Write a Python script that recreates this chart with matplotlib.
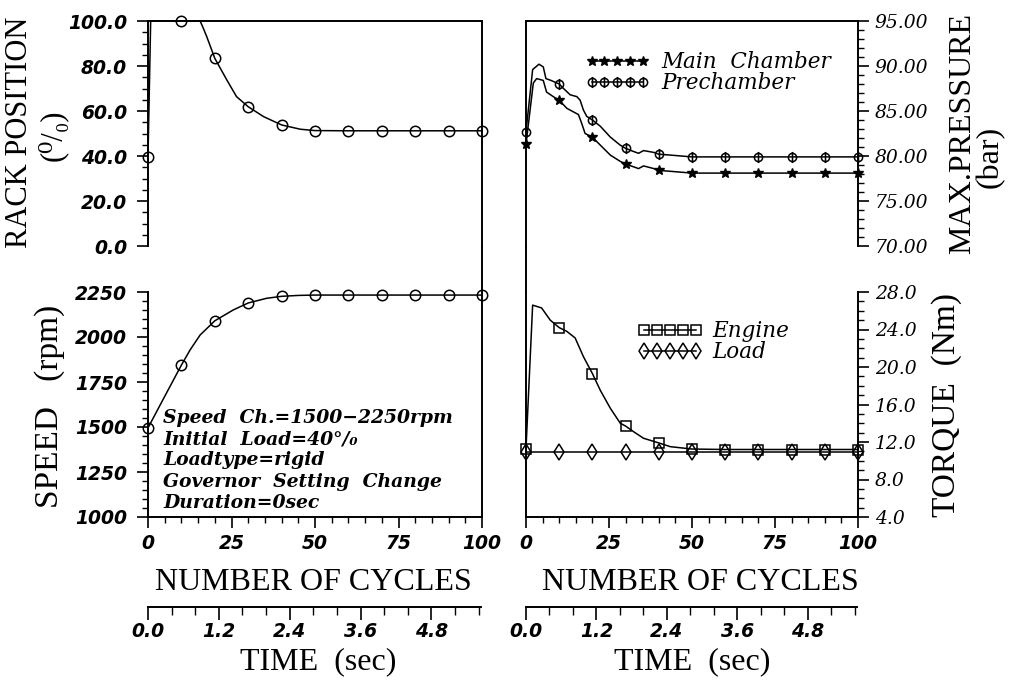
import matplotlib
matplotlib.use("Agg")
import matplotlib.pyplot as plt
from matplotlib.lines import Line2D
from matplotlib.path import Path
from matplotlib.font_manager import FontProperties
from matplotlib.ticker import MultipleLocator, FormatStrFormatter

W, H = 1009, 680

# rack position (%) against number of cycles
rack_cycles = [0, 0.8, 10, 15.6, 16.5, 17.6, 20, 23.6, 26.5, 30, 34.6, 40, 45.6, 50, 60, 70, 80, 90, 100]
rack_pos = [39.7, 100, 100, 100, 97.0, 93.0, 83.4, 73.8, 66.4, 61.9, 57.5, 53.8, 51.9, 51.3, 51.2, 51.2, 51.2, 51.2, 51.2]

# engine speed (rpm)
speed_cycles = [0, 5, 10, 12.6, 15.6, 20, 25.5, 30, 35.5, 40, 45, 50, 60, 70, 80, 90, 100]
speed_rpm = [1495, 1670, 1844, 1928, 2011, 2090, 2150, 2189, 2215, 2226, 2231, 2233, 2233, 2233, 2233, 2233, 2233]

# maximum pressure (bar)
main_cycles = [0, 2.2, 3.2, 5.2, 6.2, 8.2, 10, 12.3, 14.3, 15.8, 16.8, 17.8, 20, 22.4, 25.4, 28.4, 30,
               32.4, 33.9, 35.4, 38.5, 40, 43.5, 50, 60, 70, 80, 90, 100]
main_bar = [81.3, 88.1, 88.6, 88.4, 87.1, 86.6, 86.2, 85.3, 84.9, 84.6, 83.6, 82.5, 82.1, 81.2, 80.1, 79.4, 79.1,
            78.8, 78.6, 78.9, 78.6, 78.4, 78.3, 78.1, 78.1, 78.1, 78.1, 78.1, 78.1]
pre_cycles = [0, 2.0, 3.9, 5.2, 6.0, 7.5, 10, 11.3, 13.3, 15.3, 16.3, 17.3, 18.3, 20, 22.4, 25.4, 28.4, 30,
              32.4, 33.9, 35.4, 38.5, 40, 43.5, 50, 60, 70, 80, 90, 100]
pre_bar = [82.7, 89.6, 90.2, 89.9, 88.6, 88.4, 88.0, 87.5, 86.8, 86.6, 86.2, 85.1, 84.4, 84.0, 83.3, 82.1, 81.2, 80.85,
           80.5, 80.3, 80.6, 80.4, 80.2, 80.1, 79.9, 79.9, 79.9, 79.9, 79.9, 79.9]

# torque (Nm)
eng_cycles = [0, 2.0, 4.7, 7.3, 10, 12.3, 14.8, 17.3, 20, 22.4, 25.4, 28.4, 30, 32.4, 35.4, 40, 43.5, 50,
              60, 70, 80, 90, 100]
eng_nm = [11.3, 26.6, 26.3, 25.0, 24.2, 23.8, 23.1, 21.1, 19.3, 17.5, 15.6, 14.0, 13.7, 13.1, 12.4, 11.9, 11.5, 11.25,
          11.2, 11.2, 11.2, 11.2, 11.2]
load_cycles = [0, 10, 20, 30, 40, 50, 60, 70, 80, 90, 100]
load_nm = [10.9, 10.9, 10.9, 10.9, 10.9, 10.9, 10.9, 10.9, 10.9, 10.9, 10.9]

notes = ["Speed  Ch.=1500\u22122250rpm", "Initial  Load=40\u00b0/\u2080", "Loadtype=rigid",
         "Governor  Setting  Change", "Duration=0sec"]
time_max = 5.64

fig = plt.figure(figsize=(W / 100, H / 100), dpi=100)
fig.patch.set_facecolor("white")


def px_axes(x0, y0, x1, y1):
    return fig.add_axes([x0 / W, 1 - y1 / H, (x1 - x0) / W, (y1 - y0) / H])


def every_ten(xs):
    return [i for i, c in enumerate(xs) if c % 10 == 0]


tick_fp = FontProperties(family="DejaVu Sans", weight="bold", style="italic", size=13.5)
right_fp = FontProperties(family="DejaVu Serif", style="italic", size=13.5)
label_font = dict(family=["Liberation Serif", "DejaVu Serif"], color="black")
legend_fp = FontProperties(family="DejaVu Serif", style="italic", size=15.5)
spine_lw = 1.4
lw = 1.1

# crossed circle for the prechamber
pre_marker = Path.make_compound_path(Path.unit_circle(), Path([(0, -1.35), (0, 1.35)]))

ax_tl = px_axes(148, 21, 482, 246)
ax_bl = px_axes(148, 292, 482, 517)
ax_tr = px_axes(526, 21, 858, 246)
ax_br = px_axes(526, 292, 858, 517)
ax_t1 = px_axes(148, 606, 481, 607)
ax_t2 = px_axes(526, 606, 857, 607)

for ax in (ax_tl, ax_bl, ax_tr, ax_br, ax_t1, ax_t2):
    ax.set_facecolor("none")
    for s in ax.spines.values():
        s.set_linewidth(spine_lw)
    ax.tick_params(which="major", direction="out", length=8, width=1.2)
    ax.tick_params(which="minor", direction="out", length=4.5, width=1.0)
    ax.set_xlim(0, 100)

# rack position
ax_tl.plot(rack_cycles, rack_pos, color="k", lw=lw, marker="o", ms=7.5, mfc="none", mew=1.1,
           markevery=every_ten(rack_cycles), clip_on=False)
ax_tl.set_ylim(0, 100)
ax_tl.yaxis.set_major_locator(MultipleLocator(20))
ax_tl.yaxis.set_minor_locator(MultipleLocator(5))
ax_tl.yaxis.set_major_formatter(FormatStrFormatter("%.1f"))
ax_tl.spines["bottom"].set_visible(False)
ax_tl.tick_params(axis="x", which="both", bottom=False, labelbottom=False)

# speed
ax_bl.plot(speed_cycles, speed_rpm, color="k", lw=lw, marker="o", ms=7.5, mfc="none", mew=1.1,
           markevery=every_ten(speed_cycles), clip_on=False)
ax_bl.set_ylim(1000, 2250)
ax_bl.yaxis.set_major_locator(MultipleLocator(250))
ax_bl.yaxis.set_minor_locator(MultipleLocator(50))
ax_bl.yaxis.set_major_formatter(FormatStrFormatter("%d"))
ax_bl.spines["top"].set_visible(False)
for i, line in enumerate(notes):
    ax_bl.text(0.045, 0.44 - i * 0.0944, line, transform=ax_bl.transAxes, va="center", ha="left",
               fontsize=13.5, fontweight="bold", fontstyle="italic", family=["DejaVu Serif", "DejaVu Sans"])

# pressure
ax_tr.plot(main_cycles, main_bar, color="k", lw=lw, marker="*", ms=7.5, mfc="k", mec="k",
           markevery=every_ten(main_cycles), clip_on=False)
ax_tr.plot(pre_cycles, pre_bar, color="k", lw=lw, marker=pre_marker, ms=8, mfc="none", mec="k", mew=1.1,
           markevery=every_ten(pre_cycles), clip_on=False)
ax_tr.set_ylim(70, 95)
ax_tr.yaxis.set_major_locator(MultipleLocator(5))
ax_tr.yaxis.set_minor_locator(MultipleLocator(1))
ax_tr.yaxis.set_major_formatter(FormatStrFormatter("%.2f"))
ax_tr.yaxis.tick_right()
ax_tr.spines["bottom"].set_visible(False)
ax_tr.tick_params(axis="x", which="both", bottom=False, labelbottom=False)
ax_tr.legend([Line2D([], [], color="k", lw=lw, marker="*", ms=7.5, mfc="k"),
              Line2D([], [], color="k", lw=lw, marker=pre_marker, ms=8, mfc="none", mew=1.1)],
             ["Main  Chamber", "Prechamber"], loc="upper left", bbox_to_anchor=(0.178, 0.865),
             numpoints=5, handlelength=3.0, handletextpad=0.55, labelspacing=-0.05,
             frameon=False, borderpad=0, borderaxespad=0, prop=legend_fp)

# torque
ax_br.plot(eng_cycles, eng_nm, color="k", lw=lw, marker="s", ms=7.5, mfc="none", mew=1.1,
           markevery=every_ten(eng_cycles), clip_on=False)
ax_br.plot(load_cycles, load_nm, color="k", lw=lw, marker="d", ms=8.5, mfc="none", mew=1.1, clip_on=False)
ax_br.set_ylim(4, 28)
ax_br.yaxis.set_major_locator(MultipleLocator(4))
ax_br.yaxis.set_minor_locator(MultipleLocator(1))
ax_br.yaxis.set_major_formatter(FormatStrFormatter("%.1f"))
ax_br.yaxis.tick_right()
ax_br.spines["top"].set_visible(False)
ax_br.legend([Line2D([], [], color="k", lw=lw, marker="s", ms=7.5, mfc="none", mew=1.1),
              Line2D([], [], color="k", lw=lw, marker="d", ms=8.5, mfc="none", mew=1.1)],
             ["Engine", "Load"], loc="upper left", bbox_to_anchor=(0.337, 0.875),
             numpoints=5, handlelength=3.0, handletextpad=0.45, labelspacing=-0.05,
             frameon=False, borderpad=0, borderaxespad=0, prop=legend_fp)

for ax in (ax_bl, ax_br):
    ax.xaxis.set_major_locator(MultipleLocator(25))
    ax.xaxis.set_minor_locator(MultipleLocator(5))
    ax.tick_params(axis="x", pad=4)
    for t in ax.get_xticklabels():
        t.set_fontproperties(tick_fp)

for ax in (ax_tl, ax_bl):
    ax.tick_params(axis="y", pad=7)
    for t in ax.get_yticklabels():
        t.set_fontproperties(tick_fp)

for ax in (ax_tr, ax_br):
    ax.tick_params(axis="y", pad=4)
    for t in ax.get_yticklabels():
        t.set_fontproperties(right_fp)

# time axes under each column
for ax in (ax_t1, ax_t2):
    for side in ("top", "left", "right"):
        ax.spines[side].set_visible(False)
    ax.set_xlim(0, time_max)
    ax.set_yticks([])
    ax.xaxis.set_major_locator(MultipleLocator(1.2))
    ax.xaxis.set_minor_locator(MultipleLocator(0.4))
    ax.xaxis.set_major_formatter(FormatStrFormatter("%.1f"))
    ax.tick_params(axis="x", which="major", length=9, pad=2)
    ax.tick_params(axis="x", which="minor", length=5.5)
    for t in ax.get_xticklabels():
        t.set_fontproperties(tick_fp)

# frame pieces bridging the two panels of each column
for xp in (482, 526):
    fig.add_artist(Line2D([xp / W, xp / W], [1 - 246 / H, 1 - 292 / H], transform=fig.transFigure,
                          color="k", lw=spine_lw))


def fig_text(x, y, s, size, rot=0):
    fig.text(x / W, 1 - y / H, s, ha="center", va="center", rotation=rot, fontsize=size, **label_font)


fig_text(20, 132, "RACK POSITION", 22, 90)
fig_text(52, 135, "(\u2070/\u2080)", 22, 90)
fig_text(50, 406, "SPEED   (rpm)", 24, 90)
fig_text(963, 133, "MAX.PRESSURE", 23, 90)
fig_text(990, 157, "(bar)", 23, 90)
fig_text(947, 405, "TORQUE  (Nm)", 24, 90)
fig_text(313, 582, "NUMBER OF CYCLES", 23)
fig_text(700, 582, "NUMBER OF CYCLES", 23)
fig_text(318, 662, "TIME  (sec)", 23)
fig_text(692, 662, "TIME  (sec)", 23)

fig.savefig("out.png", dpi=100, facecolor="white")
